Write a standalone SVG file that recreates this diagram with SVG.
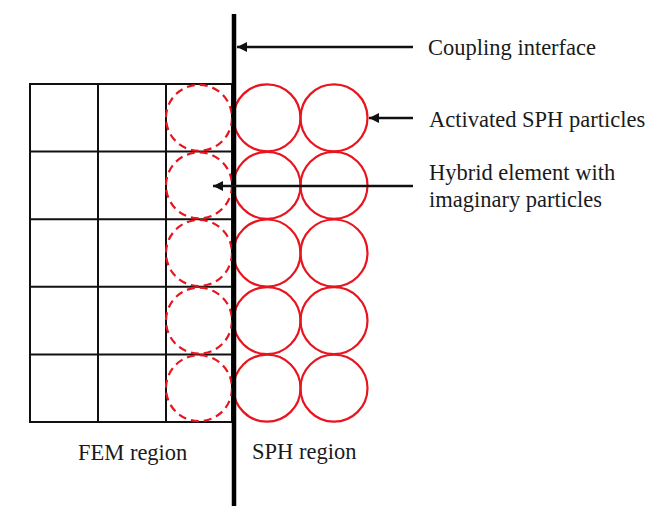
<svg xmlns="http://www.w3.org/2000/svg" width="661" height="517" viewBox="0 0 661 517">
<style>
.grid{fill:none;stroke:#111;stroke-width:2}
.img{fill:none;stroke:#e8141e;stroke-width:2.2;stroke-dasharray:8 5}
.sph{fill:none;stroke:#e8141e;stroke-width:2.2}
.lbl{font-family:"Liberation Serif","Times New Roman",serif;font-size:22.5px;fill:#1a1a1a}
.arr{stroke:#111;stroke-width:2.5;fill:none;marker-end:url(#ah)}
</style>
<defs>
<marker id="ah" viewBox="0 0 10 10" refX="10" refY="5" markerWidth="10" markerHeight="10" markerUnits="userSpaceOnUse" orient="auto">
<path d="M0,0 L10,5 L0,10 Z" fill="#111"/>
</marker>
</defs>
<rect width="661" height="517" fill="#fff"/>
<g id="fem-grid">
<rect class="grid" x="30" y="84" width="202" height="338"/>
<line class="grid" x1="98" y1="84" x2="98" y2="422"/>
<line class="grid" x1="166" y1="84" x2="166" y2="422"/>
<line class="grid" x1="30" y1="151.6" x2="232" y2="151.6"/>
<line class="grid" x1="30" y1="219.2" x2="232" y2="219.2"/>
<line class="grid" x1="30" y1="286.8" x2="232" y2="286.8"/>
<line class="grid" x1="30" y1="354.4" x2="232" y2="354.4"/>
</g>
<g id="imaginary-particles">
<circle class="img" cx="199" cy="117.8" r="33"/>
<circle class="img" cx="199" cy="185.4" r="33"/>
<circle class="img" cx="199" cy="253" r="33"/>
<circle class="img" cx="199" cy="320.6" r="33"/>
<circle class="img" cx="199" cy="388.2" r="33"/>
</g>
<g id="sph-particles">
<circle class="sph" cx="267" cy="117.8" r="33.5"/>
<circle class="sph" cx="334" cy="117.8" r="33.5"/>
<circle class="sph" cx="267" cy="185.4" r="33.5"/>
<circle class="sph" cx="334" cy="185.4" r="33.5"/>
<circle class="sph" cx="267" cy="253" r="33.5"/>
<circle class="sph" cx="334" cy="253" r="33.5"/>
<circle class="sph" cx="267" cy="320.6" r="33.5"/>
<circle class="sph" cx="334" cy="320.6" r="33.5"/>
<circle class="sph" cx="267" cy="388.2" r="33.5"/>
<circle class="sph" cx="334" cy="388.2" r="33.5"/>
</g>
<g id="interface">
<line x1="234" y1="14" x2="234" y2="506" stroke="#000" stroke-width="4.5"/>
</g>
<g id="connectors">
<line class="arr" x1="413" y1="47" x2="237" y2="47"/>
<line class="arr" x1="413" y1="118" x2="369" y2="118"/>
<line class="arr" x1="413" y1="186" x2="213" y2="186"/>
</g>
<g id="labels">
<text class="lbl" x="428" y="55">Coupling interface</text>
<text class="lbl" x="429" y="127">Activated SPH particles</text>
<text class="lbl" x="429" y="180">Hybrid element with</text>
<text class="lbl" x="429" y="207">imaginary particles</text>
<text class="lbl" x="78" y="460">FEM region</text>
<text class="lbl" x="252" y="459">SPH region</text>
</g>
</svg>
